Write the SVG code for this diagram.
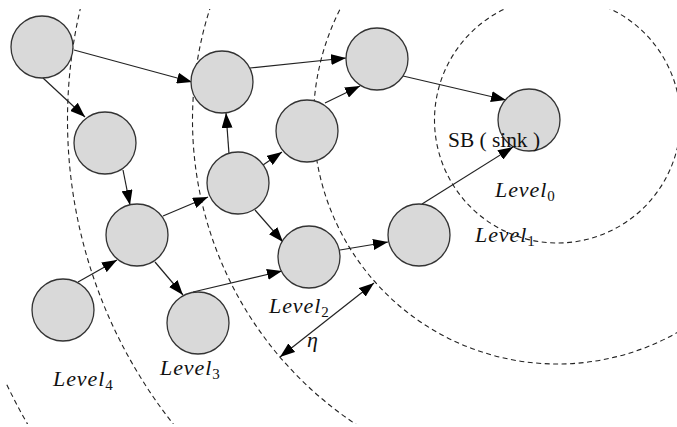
<svg xmlns="http://www.w3.org/2000/svg" width="677" height="427" viewBox="0 0 677 427">
<defs>
<style>
.lvl{fill:none;stroke:#222;stroke-width:1.1;stroke-dasharray:5 3.5}
.node{fill:#d9d9d9;stroke:#333;stroke-width:1.3}
.edge{stroke:#222;stroke-width:1.2;fill:none;marker-end:url(#ah)}
.lab{font-family:"Liberation Serif","Times New Roman",serif;font-style:italic;font-size:22px;fill:#111;letter-spacing:0.9px}
.sub{font-size:15px;font-style:normal;letter-spacing:0}
.sb{font-family:"Liberation Serif","Times New Roman",serif;font-size:20px;fill:#111}
</style>
<clipPath id="clip"><rect x="6" y="9" width="671" height="415"/></clipPath>
<marker id="ah" viewBox="0 0 15 11" refX="15" refY="5.5" markerWidth="15" markerHeight="11" markerUnits="userSpaceOnUse" orient="auto-start-reverse">
<path d="M0,0 L15,5.5 L0,11 z" fill="#000"/>
</marker>
</defs>
<rect width="677" height="427" fill="#fff"/>
<g id="levels" clip-path="url(#clip)">
<circle class="lvl" cx="557.5" cy="120" r="123"/>
<circle class="lvl" cx="557.5" cy="120" r="244"/>
<circle class="lvl" cx="557.5" cy="120" r="365"/>
<circle class="lvl" cx="557.5" cy="120" r="490"/>
<circle class="lvl" cx="557.5" cy="120" r="611"/>
</g>
<g id="connectors">
<line class="edge" x1="74" y1="50" x2="192" y2="82"/>
<line class="edge" x1="43" y1="78" x2="85" y2="117"/>
<line class="edge" x1="123" y1="170" x2="130" y2="205"/>
<line class="edge" x1="229" y1="154" x2="226" y2="113"/>
<line class="edge" x1="263" y1="165" x2="282" y2="152"/>
<line class="edge" x1="163" y1="216" x2="208" y2="197"/>
<line class="edge" x1="250" y1="68" x2="346" y2="58"/>
<line class="edge" x1="325" y1="103" x2="360" y2="86"/>
<line class="edge" x1="403" y1="76" x2="506" y2="100"/>
<line class="edge" x1="422" y1="204" x2="513" y2="147"/>
<line class="edge" x1="255" y1="210" x2="283" y2="242"/>
<line class="edge" x1="155" y1="262" x2="183" y2="295"/>
<line class="edge" x1="78" y1="282" x2="117" y2="260"/>
<line class="edge" x1="193" y1="292" x2="282" y2="271"/>
<line class="edge" x1="340" y1="250" x2="388" y2="242"/>
<line id="eta-arrow" class="edge" x1="280" y1="357" x2="374" y2="283" marker-start="url(#ah)"/>
</g>
<g id="n1"><circle class="node" cx="42" cy="47" r="31"/></g>
<g id="n2"><circle class="node" cx="222" cy="82" r="31"/></g>
<g id="n3"><circle class="node" cx="105" cy="143" r="31"/></g>
<g id="n4"><circle class="node" cx="307" cy="131" r="31"/></g>
<g id="n5"><circle class="node" cx="238" cy="183" r="31"/></g>
<g id="n6"><circle class="node" cx="377" cy="59" r="31"/></g>
<g id="sink"><circle class="node" cx="529" cy="120" r="31"/></g>
<g id="n7"><circle class="node" cx="419" cy="235" r="31"/></g>
<g id="n8"><circle class="node" cx="309" cy="257" r="31"/></g>
<g id="n9"><circle class="node" cx="137" cy="235" r="31"/></g>
<g id="n10"><circle class="node" cx="63" cy="310" r="31"/></g>
<g id="n11"><circle class="node" cx="198" cy="323" r="31"/></g>
<g id="labels">
<text class="sb" x="448" y="147" textLength="92" lengthAdjust="spacingAndGlyphs">SB ( sink )</text>
<text class="lab" x="495" y="197">Level<tspan class="sub" dy="4">0</tspan></text>
<text class="lab" x="475" y="242">Level<tspan class="sub" dy="4">1</tspan></text>
<text class="lab" x="269" y="313">Level<tspan class="sub" dy="4">2</tspan></text>
<text class="lab" x="160" y="375">Level<tspan class="sub" dy="4">3</tspan></text>
<text class="lab" x="53" y="386">Level<tspan class="sub" dy="4">4</tspan></text>
<text class="lab" x="307" y="347" style="letter-spacing:0">η</text>
</g>
</svg>
